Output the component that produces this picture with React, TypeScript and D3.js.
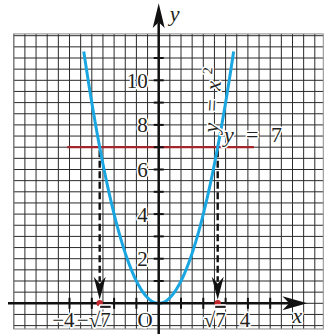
import React from 'react';
import * as d3 from 'd3';

// ---- data ----
const xGridDomain = [-6.5, 7.38];
const yGridDomain = [-1.15, 12.08];
const xTickValues = [-4, -3, -2, -1, 1, 2, 3, 4, 5];
const yTickValues = [1, 2, 3, 4, 5, 6, 7, 8, 9, 10, 11];
const yLabelValues = [2, 4, 6, 8, 10];
const xLabelValues = [-4, -Math.sqrt(7), 0, Math.sqrt(7), 4];
const xLabelTexts = ['−4', '−√', 'O', '√', '4'];
const xLabelRadicands = ['', '7', '', '7', ''];
const curveDomain = [-3.36, 3.36];
const lineY = 7;
const lineDomain = [-4.1, 4.27];
const rootsX = [-Math.sqrt(7), Math.sqrt(7)];

const W = 329;
const H = 334;
const FONT = '"Liberation Serif", "Times New Roman", serif';
const INK = '#231f20';

export default function App() {
  const x = d3.scaleLinear().domain([-6.5, 7.5]).range([13.75, 13.75 + 14 * 22.3]);
  const y = d3.scaleLinear().domain([-1, 12]).range([303.3 + 22.3, 303.3 - 12 * 22.3]);

  const gx0 = x(xGridDomain[0]);
  const gx1 = x(xGridDomain[1]);
  const gy0 = y(yGridDomain[1]);
  const gy1 = y(yGridDomain[0]);

  const vGrid = d3.range(-6.5, xGridDomain[1] + 0.001, 0.5);
  const hGrid = d3.range(-1, yGridDomain[1] + 0.001, 0.5);

  const curvePts = d3.range(curveDomain[0], curveDomain[1] + 0.0001, 0.02).map((v) => [v, v * v] as [number, number]);
  const line = d3
    .line<[number, number]>()
    .x((d) => x(d[0]))
    .y((d) => y(d[1]))
    .curve(d3.curveLinear);

  const ox = x(0);
  const oy = y(0);

  const halo = { paintOrder: 'stroke', stroke: '#fff', strokeWidth: 3, strokeLinejoin: 'round' } as any;

  return (
    <svg width={W} height={H} style={{ position: 'absolute', left: 0, top: 0, background: '#fff' }} fontFamily={FONT}>
      <rect x={0} y={0} width={W} height={H} fill="#fff" />
      {/* grid */}
      <g stroke="#2a2a2a" strokeWidth={1}>
        {vGrid.map((v) => (
          <line key={'v' + v} x1={x(v)} x2={x(v)} y1={gy0} y2={gy1} />
        ))}
        {hGrid.map((v) => (
          <line key={'h' + v} x1={gx0} x2={gx1} y1={y(v)} y2={y(v)} />
        ))}
      </g>
      <rect x={gx0} y={gy0} width={gx1 - gx0} height={gy1 - gy0} fill="none" stroke="#8a8a8a" strokeWidth={1} />

      {/* y = 7 line */}
      <line x1={x(lineDomain[0])} x2={x(lineDomain[1])} y1={y(lineY)} y2={y(lineY)} stroke="#a3262b" strokeWidth={2.2} />

      {/* dashed arrows */}
      {rootsX.map((r) => {
        const cx = x(r);
        const tipY = oy - 3.5;
        return (
          <g key={'d' + r}>
            <line x1={cx} x2={cx} y1={y(lineY) + 3} y2={tipY - 18} stroke="#111" strokeWidth={2.4} strokeDasharray="7,3.5" />
            <path
              d={`M${cx},${tipY} L${cx - 6},${tipY - 23} L${cx},${tipY - 16} L${cx + 6},${tipY - 23} Z`}
              fill="#111"
            />
          </g>
        );
      })}

      {/* parabola */}
      <path d={line(curvePts) || ''} fill="none" stroke="#1aa6e0" strokeWidth={3} />

      {/* axes */}
      <line x1={8} x2={x(5.9)} y1={oy} y2={oy} stroke="#111" strokeWidth={2.5} />
      <path d={`M${x(6.66)},${oy} L${x(5.55)},${oy - 7} L${x(5.85)},${oy} L${x(5.55)},${oy + 7} Z`} fill="#111" />
      <line x1={ox} x2={ox} y1={H} y2={y(12.6)} stroke="#111" strokeWidth={2.5} />
      <path d={`M${ox},${y(13.45)} L${ox - 6},${y(12.35)} L${ox},${y(12.6)} L${ox + 6},${y(12.35)} Z`} fill="#111" />

      {/* ticks */}
      <g stroke="#111" strokeWidth={2}>
        {xTickValues.map((v) => (
          <line key={'xt' + v} x1={x(v)} x2={x(v)} y1={oy - 5.5} y2={oy + 5.5} />
        ))}
        {yTickValues.map((v) => (
          <line key={'yt' + v} x1={ox - 5} x2={ox + 5} y1={y(v)} y2={y(v)} />
        ))}
      </g>

      {/* root dots */}
      {rootsX.map((r) => (
        <circle key={'c' + r} cx={x(r)} cy={oy} r={3.2} fill="#c1272d" />
      ))}

      {/* y labels */}
      <g fontSize={21} fill={INK} textAnchor="end">
        {yLabelValues.map((v) => (
          <text key={'yl' + v} x={ox - 11} y={y(v)} dy="0.36em" style={halo}>
            {v}
          </text>
        ))}
      </g>

      {/* x labels */}
      <g fontSize={21} fill={INK}>
        {xLabelValues.map((v, i) => {
          const offs = [5, 11, -6, 8, -3][i];
          const anchor = i === 4 ? 'middle' : 'end';
          return (
            <text key={'xl' + i} x={x(v) + offs} y={oy + 23.5} textAnchor={anchor} style={halo}>
              {xLabelTexts[i]}
              {xLabelRadicands[i] ? (
                <tspan style={{ textDecoration: 'overline' }}>{xLabelRadicands[i]}</tspan>
              ) : null}
            </text>
          );
        })}
      </g>

      {/* axis names */}
      <text x={x(6.0)} y={oy + 20} fontSize={22} fontStyle="italic" fill={INK} style={halo}>
        x
      </text>
      <text x={ox + 11} y={21} fontSize={22} fontStyle="italic" fill={INK} style={halo}>
        y
      </text>

      {/* y = 7 label */}
      <text y={y(lineY) - 5.5} fontSize={22} fill={INK} style={halo}>
        <tspan x={224} fontStyle="italic">y</tspan>
        <tspan x={246}>=</tspan>
        <tspan x={271}>7</tspan>
      </text>

      {/* y = x^2 label */}
      <g transform={`translate(218,133) rotate(-87)`}>
        <text x={0} y={0} fontSize={22} fill={INK} style={halo}>
          <tspan x={0} fontStyle="italic">y</tspan>
          <tspan x={21}>=</tspan>
          <tspan x={42} fontStyle="italic">x</tspan>
          <tspan x={58} dy={-9} fontSize={14}>2</tspan>
        </text>
      </g>
    </svg>
  );
}
